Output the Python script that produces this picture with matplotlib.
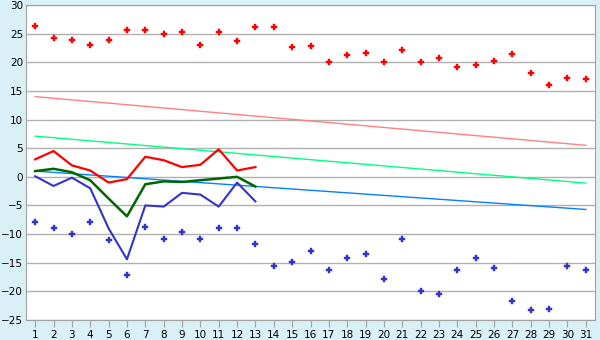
import matplotlib
matplotlib.use("Agg")
import matplotlib.pyplot as plt

days = list(range(1, 32))
max_pts = [26.3, 24.3, 23.9, 23.0, 23.9, 25.6, 25.7, 25.0, 25.2, 23.1,
           25.2, 23.8, 26.1, 26.1, 22.6, 22.8, 20.0, 21.2, 21.6, 20.0,
           22.1, 20.0, 20.7, 19.1, 19.6, 20.2, 21.4, 18.2, 16.0, 17.2, 17.0]
min_pts = [-7.9, -9.0, -10.0, -7.9, -11.1, -17.1, -8.8, -10.9, -9.7, -10.9,
           -9.0, -9.0, -11.8, -15.5, -14.9, -13.0, -16.2, -14.2, -13.5, -17.9,
           -10.9, -20.0, -20.5, -16.2, -14.2, -16.0, -21.7, -23.3, -23.0, -15.6, -16.2]

line_days = list(range(1, 14))
red_line = [3.05, 4.5, 2.0, 1.1, -1.0, -0.4, 3.5, 2.9, 1.7, 2.1, 4.8, 1.1, 1.7]
green_line = [1.0, 1.4, 0.8, -0.6, -3.8, -6.9, -1.3, -0.8, -0.9, -0.6, -0.3, 0.0, -1.7]
blue_line = [0.1, -1.6, -0.15, -2.0, -9.0, -14.4, -5.0, -5.2, -2.8, -3.1, -5.2, -1.0, -4.3]

# trend lines: start (day 1) and end (day 31) values
trend_ends = [1, 31]
trend_pink = [14.0, 5.5]
trend_green = [7.1, -1.1]
trend_blue = [1.0, -5.7]

fig = plt.figure(figsize=(6, 3.4), dpi=100, facecolor="#daf0f7")
ax = fig.add_axes([26 / 600, 20 / 340, 569 / 600, 315 / 340])
ax.set_facecolor("white")

ax.plot(trend_ends, trend_pink, color="#ff8080", lw=1)
ax.plot(trend_ends, trend_green, color="#00ff80", lw=1)
ax.plot(trend_ends, trend_blue, color="#0080ff", lw=1)

ax.plot(line_days, red_line, color="#ff0000", lw=1.6)
ax.plot(line_days, green_line, color="#006600", lw=1.8)
ax.plot(line_days, blue_line, color="#3333cc", lw=1.5)

ax.plot(days, max_pts, ls="none", marker="P", ms=4.2, color="#ff0000", mec="#ff0000", mew=0.3)
ax.plot(days, min_pts, ls="none", marker="P", ms=4.2, color="#3333cc", mec="#3333cc", mew=0.3)

ax.set_xlim(0.5, 31.5)
ax.set_ylim(-25, 30)
ax.set_xticks(days)
ax.set_yticks(range(-25, 31, 5))
ax.yaxis.grid(True, color="#b0b0b0", lw=1)
ax.set_axisbelow(True)
ax.tick_params(axis="x", length=5, color="#a0a0a0", labelsize=7.5, pad=2)
ax.tick_params(axis="y", length=0, labelsize=7.5, pad=2)
for s in ax.spines.values():
    s.set_color("#a0a0a0")

fig.savefig("out.png", dpi=100, facecolor=fig.get_facecolor())
